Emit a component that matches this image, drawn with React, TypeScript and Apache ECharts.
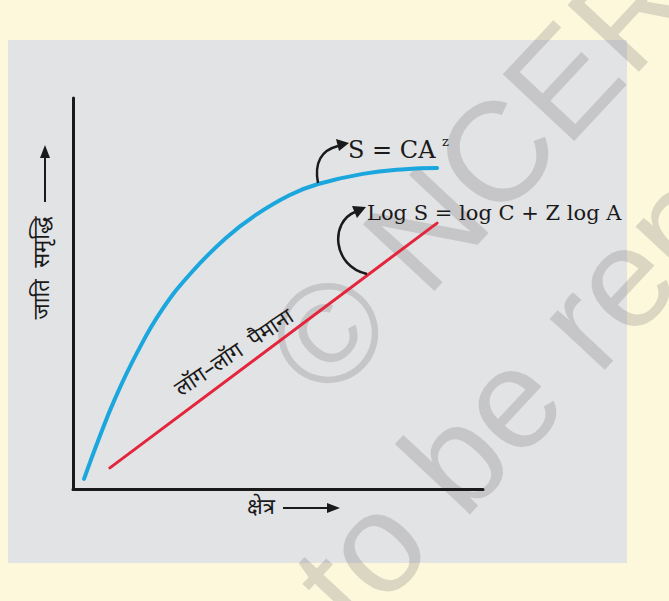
import React, { useEffect, useRef } from "react";
import * as echarts from "echarts";

// Species–area relationship (schematic)
const curveArea = [2.7, 6.1, 10.2, 15.6, 21.7, 29.0, 37.3, 44.6, 52.9, 59.8, 70.7, 81.0, 88.8];
const curveRichness = [2.6, 12.3, 23.0, 34.8, 45.8, 55.5, 64.2, 70.1, 75.2, 78.0, 80.6, 81.8, 82.1];
const logArea = [9.0, 88.8];
const logRichness = [5.4, 68.0];

const yLabel = "जाति  समृद्धि";
const xLabel = "क्षेत्र";
const lineLabel = "लॉग–लॉग  पैमाना";
const eqPower = "S = CA";
const eqPowerExp = "z";
const eqLog = "Log S = log C + Z log A";
const wmLine1 = "© NCERT";
const wmLine2 = "not to be republished";

const DEV = '"Noto Sans Devanagari", "Lohit Devanagari", "Noto Sans", sans-serif';
const SERIF = '"DejaVu Serif", "Liberation Serif", serif';

export default function App() {
  const ref = useRef<HTMLDivElement>(null);
  useEffect(() => {
    if (!ref.current) return;
    const chart = echarts.init(ref.current, undefined, { renderer: "svg" });
    const toPairs = (xs: number[], ys: number[]) => xs.map((x, i) => [x, ys[i]]);
    const wmRot = (47 * Math.PI) / 180;
    const lblRot = (34 * Math.PI) / 180;
    const ink = "#1a1a1a";
    const wmFill = "rgba(110,110,110,0.24)";
    const wmFont = '142px "Liberation Sans", Arial, sans-serif';
    chart.setOption({
      animation: false,
      backgroundColor: "#fdf7dc",
      grid: { left: 73, top: 98, right: 186, bottom: 112, containLabel: false },
      xAxis: {
        type: "value",
        min: 0,
        max: 100,
        z: 6,
        axisLine: { show: true, lineStyle: { color: ink, width: 3 } },
        axisTick: { show: false },
        axisLabel: { show: false },
        splitLine: { show: false },
      },
      yAxis: {
        type: "value",
        min: 0,
        max: 100,
        z: 6,
        axisLine: { show: true, lineStyle: { color: ink, width: 3 } },
        axisTick: { show: false },
        axisLabel: { show: false },
        splitLine: { show: false },
      },
      series: [
        {
          type: "line",
          data: toPairs(curveArea, curveRichness),
          smooth: 0.45,
          showSymbol: false,
          z: 5,
          lineStyle: { color: "#1ba6de", width: 4, cap: "round" },
        },
        {
          type: "line",
          data: toPairs(logArea, logRichness),
          showSymbol: false,
          z: 5,
          lineStyle: { color: "#e3263c", width: 3, cap: "round" },
        },
      ],
      graphic: [
        {
          type: "rect",
          z: -10,
          shape: { x: 8, y: 40, width: 619, height: 523 },
          style: { fill: "#e2e3e5" },
        },
        // watermark
        {
          type: "text",
          z: -5,
          x: 292,
          y: 371,
          rotation: wmRot,
          style: {
            text: wmLine1,
            font: wmFont,
            fill: wmFill,
            textAlign: "left",
            textVerticalAlign: "middle",
          },
        },
        {
          type: "text",
          z: -5,
          x: 158,
          y: 776,
          rotation: wmRot,
          style: {
            text: wmLine2,
            font: wmFont,
            fill: wmFill,
            textAlign: "left",
            textVerticalAlign: "middle",
          },
        },
        // y axis label + arrow
        {
          type: "text",
          z: 10,
          x: 43,
          y: 268,
          rotation: Math.PI / 2,
          style: {
            text: yLabel,
            font: `22px ${DEV}`,
            fill: ink,
            textAlign: "center",
            textVerticalAlign: "middle",
          },
        },
        {
          type: "line",
          z: 10,
          shape: { x1: 45, y1: 202, x2: 45, y2: 156 },
          style: { stroke: ink, lineWidth: 2 },
        },
        {
          type: "polygon",
          z: 10,
          shape: { points: [[45, 145], [40, 158], [50, 158]] },
          style: { fill: ink },
        },
        // x axis label + arrow
        {
          type: "text",
          z: 10,
          x: 261,
          y: 508,
          style: {
            text: xLabel,
            font: `22px ${DEV}`,
            fill: ink,
            textAlign: "center",
            textVerticalAlign: "middle",
          },
        },
        {
          type: "line",
          z: 10,
          shape: { x1: 283, y1: 508, x2: 328, y2: 508 },
          style: { stroke: ink, lineWidth: 2 },
        },
        {
          type: "polygon",
          z: 10,
          shape: { points: [[340, 508], [327, 503], [327, 513]] },
          style: { fill: ink },
        },
        // label along log-log line
        {
          type: "text",
          z: 10,
          x: 235,
          y: 354,
          rotation: lblRot,
          style: {
            text: lineLabel,
            font: `22px ${DEV}`,
            fill: ink,
            textAlign: "center",
            textVerticalAlign: "middle",
          },
        },
        // annotation: power law
        {
          type: "bezierCurve",
          z: 10,
          shape: { x1: 318, y1: 183, cpx1: 314, cpy1: 162, cpx2: 322, cpy2: 150, x2: 338, y2: 146 },
          style: { stroke: ink, lineWidth: 2.5, fill: null },
        },
        {
          type: "polygon",
          z: 10,
          shape: { points: [[349, 143], [336, 139], [339, 151]] },
          style: { fill: ink },
        },
        {
          type: "text",
          z: 10,
          x: 348,
          y: 150,
          style: {
            text: eqPower,
            font: `24px ${SERIF}`,
            fill: ink,
            textAlign: "left",
            textVerticalAlign: "middle",
          },
        },
        {
          type: "text",
          z: 10,
          x: 442,
          y: 141,
          style: {
            text: eqPowerExp,
            font: `13px ${SERIF}`,
            fill: ink,
            textAlign: "left",
            textVerticalAlign: "middle",
          },
        },
        // annotation: log form
        {
          type: "bezierCurve",
          z: 10,
          shape: { x1: 367, y1: 274, cpx1: 332, cpy1: 266, cpx2: 330, cpy2: 222, x2: 355, y2: 212 },
          style: { stroke: ink, lineWidth: 2.5, fill: null },
        },
        {
          type: "polygon",
          z: 10,
          shape: { points: [[366, 207], [352, 206], [357, 218]] },
          style: { fill: ink },
        },
        {
          type: "text",
          z: 10,
          x: 367,
          y: 213,
          style: {
            text: eqLog,
            font: `21px ${SERIF}`,
            fill: ink,
            textAlign: "left",
            textVerticalAlign: "middle",
          },
        },
      ],
    });
    return () => chart.dispose();
  }, []);
  return (
    <div
      ref={ref}
      style={{ position: "fixed", left: 0, top: 0, width: 669, height: 601 }}
    />
  );
}
